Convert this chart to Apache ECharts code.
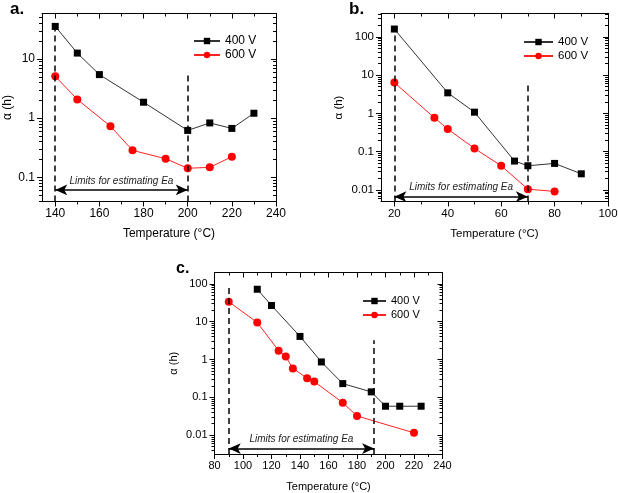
<!DOCTYPE html>
<html>
<head>
<meta charset="utf-8">
<script src="https://cdn.jsdelivr.net/npm/echarts@6/dist/echarts.min.js"></script>
<style>
  html, body { margin: 0; padding: 0; background: #fff; }
  #chart { width: 618px; height: 493px; }
</style>
</head>
<body>
<div id="chart"></div>
<script>
// panel a
const tempA400 = [140, 150, 160, 180, 200, 210, 220, 230];
const alphaA400 = [35.6, 12.6, 5.45, 1.86, 0.62, 0.83, 0.67, 1.21];
const tempA600 = [140, 150, 165, 175, 190, 200, 210, 220];
const alphaA600 = [5.1, 2.07, 0.73, 0.285, 0.206, 0.142, 0.147, 0.223];
// panel b
const tempB400 = [20, 40, 50, 65, 70, 80, 90];
const alphaB400 = [160, 3.45, 1.08, 0.057, 0.043, 0.0495, 0.0265];
const tempB600 = [20, 35, 40, 50, 60, 70, 80];
const alphaB600 = [6.4, 0.77, 0.39, 0.122, 0.043, 0.0105, 0.0092];
// panel c
const tempC400 = [110, 120, 140, 155, 170, 190, 200, 210, 225];
const alphaC400 = [72, 26.8, 4.07, 0.86, 0.23, 0.139, 0.058, 0.058, 0.058];
const tempC600 = [90, 110, 125, 130, 135, 145, 150, 170, 180, 220];
const alphaC600 = [33.5, 9.5, 1.71, 1.19, 0.58, 0.32, 0.26, 0.072, 0.032, 0.0115];

// ticks
const xTicksA = [140, 160, 180, 200, 220, 240];
const xMinorA = [150, 170, 190, 210, 230];
const xTicksB = [20, 40, 60, 80, 100];
const xMinorB = [30, 50, 70, 90];
const xTicksC = [80, 100, 120, 140, 160, 180, 200, 220, 240];
const xMinorC = [90, 110, 130, 150, 170, 190, 210, 230];
const yTicksA = [0.1, 1, 10];
const yTicksB = [0.01, 0.1, 1, 10, 100];
const yTicksC = [0.01, 0.1, 1, 10, 100];

// limits for estimating Ea: x range, dashed line tops, arrow height
const limitsA = { x: [140, 200], top: [35.6, 5.3], arrow: 0.061 };
const limitsB = { x: [20, 70], top: [160, 5.8], arrow: 0.0067 };
const limitsC = { x: [90, 192], top: [94, 3.2], arrow: 0.0044 };

const FONT = "'Liberation Sans', Arial, sans-serif";
const lg = v => Math.log10(v);

const panels = [
  { letter: 'a.', letterPos: [10, 1], fs: 12, grid: { left: 42, top: 13.5, width: 234, height: 188 },
    xMin: 134, xMax: 240, yMin: -1.41, yMax: 1.77,
    xMajor: xTicksA, xMinor: xMinorA, yMajor: yTicksA, xGap: 26, yGap: 28, xPad: 20,
    s400: [tempA400, alphaA400], s600: [tempA600, alphaA600], lim: limitsA,
    legend: { left: 193, top: 35, itemWidth: 26 } },
  { letter: 'b.', letterPos: [349, 1], fs: 11.5, grid: { left: 381, top: 13.5, width: 227, height: 188 },
    xMin: 15, xMax: 100, yMin: -2.30, yMax: 2.61,
    xMajor: xTicksB, xMinor: xMinorB, yMajor: yTicksB, xGap: 26, yGap: 36, xPad: 0,
    s400: [tempB400, alphaB400], s600: [tempB600, alphaB600], lim: limitsB,
    legend: { left: 523, top: 36, itemWidth: 29 } },
  { letter: 'c.', letterPos: [176, 261], fs: 11, grid: { left: 214.5, top: 272.5, width: 228, height: 181.5 },
    xMin: 80, xMax: 240, yMin: -2.5, yMax: 2.3,
    xMajor: xTicksC, xMinor: xMinorC, yMajor: yTicksC, xGap: 27, yGap: 35, xPad: 0,
    s400: [tempC400, alphaC400], s600: [tempC600, alphaC600], lim: limitsC,
    legend: { left: 362, top: 295, itemWidth: 23 } }
];

function minorLogTicks(lo, hi) {
  const out = [];
  for (let d = Math.floor(lo); d <= Math.ceil(hi); d++) {
    for (let k = 2; k <= 9; k++) {
      const v = lg(k) + d;
      if (v > lo && v < hi) out.push(v);
    }
  }
  return out;
}

const option = {
  animation: false,
  backgroundColor: '#fff',
  title: [], grid: [], xAxis: [], yAxis: [], legend: [], series: []
};

panels.forEach((p, g) => {
  const tickLine = { color: '#000', width: 1 };
  option.title.push({
    text: p.letter, left: p.letterPos[0], top: p.letterPos[1], padding: 0,
    textStyle: { fontSize: g === 2 ? 16 : 17, fontWeight: 'bold', color: '#000', fontFamily: FONT }
  });
  option.grid.push(Object.assign({ containLabel: false, outerBoundsMode: 'none' }, p.grid));

  const line = { show: true, onZero: false, lineStyle: { color: '#000', width: 1 } };
  const noLine = { show: false, onZero: false };
  const xb = { type: 'value', gridIndex: g, min: p.xMin, max: p.xMax, splitLine: { show: false }, axisLine: line };
  option.xAxis.push(
    Object.assign({}, xb, { position: 'bottom',
      axisTick: { customValues: p.xMajor, length: 5, lineStyle: tickLine },
      axisLabel: { customValues: p.xMajor, fontSize: p.fs, color: '#000', fontFamily: FONT, margin: 6 },
      name: 'Temperature (°C)', nameLocation: 'middle', nameGap: p.xGap,
      nameTextStyle: { fontSize: p.fs, color: '#000', fontFamily: FONT, padding: [0, 0, 0, p.xPad] } }),
    Object.assign({}, xb, { position: 'bottom', axisLine: noLine,
      axisTick: { customValues: p.xMinor, length: 3, lineStyle: tickLine }, axisLabel: { show: false } }),
    Object.assign({}, xb, { position: 'top',
      axisTick: { inside: true, customValues: p.xMajor, length: 5, lineStyle: tickLine }, axisLabel: { show: false } }),
    Object.assign({}, xb, { position: 'top', axisLine: noLine,
      axisTick: { inside: true, customValues: p.xMinor, length: 3, lineStyle: tickLine }, axisLabel: { show: false } })
  );

  const yMajor = p.yMajor.map(lg);
  const yMinor = minorLogTicks(p.yMin, p.yMax);
  const yb = { type: 'value', gridIndex: g, min: p.yMin, max: p.yMax, splitLine: { show: false }, axisLine: line };
  option.yAxis.push(
    Object.assign({}, yb, { position: 'left',
      axisTick: { customValues: yMajor, length: 5, lineStyle: tickLine },
      axisLabel: { customValues: yMajor, fontSize: p.fs, color: '#000', fontFamily: FONT, margin: 7,
        formatter: v => String(+Math.pow(10, v).toPrecision(1)) },
      name: 'α (h)', nameLocation: 'middle', nameGap: p.yGap,
      nameTextStyle: { fontSize: p.fs, color: '#000', fontFamily: FONT } }),
    Object.assign({}, yb, { position: 'left', axisLine: noLine,
      axisTick: { customValues: yMinor, length: 3, lineStyle: tickLine }, axisLabel: { show: false } }),
    Object.assign({}, yb, { position: 'right',
      axisTick: { inside: true, customValues: yMajor, length: 5, lineStyle: tickLine }, axisLabel: { show: false } }),
    Object.assign({}, yb, { position: 'right', axisLine: noLine,
      axisTick: { inside: true, customValues: yMinor, length: 3, lineStyle: tickLine }, axisLabel: { show: false } })
  );

  option.legend.push({
    orient: 'vertical', left: p.legend.left, top: p.legend.top, padding: 0,
    itemWidth: p.legend.itemWidth, itemHeight: 8, itemGap: 2,
    data: ['400 V', '600 V'],
    textStyle: { fontSize: p.fs, lineHeight: 12, color: '#000', fontFamily: FONT }
  });

  const ax = 4 * g;
  option.series.push({
    type: 'line', name: '400 V', xAxisIndex: ax, yAxisIndex: ax,
    data: p.s400[0].map((t, i) => [t, lg(p.s400[1][i])]),
    symbol: 'rect', symbolSize: 7,
    lineStyle: { color: '#333', width: 1 }, itemStyle: { color: '#000' }
  });

  const l = p.lim;
  const dashed = { color: '#000', width: 1.5, type: [6, 4] };
  option.series.push({
    type: 'line', name: '600 V', xAxisIndex: ax, yAxisIndex: ax,
    data: p.s600[0].map((t, i) => [t, lg(p.s600[1][i])]),
    symbol: 'circle', symbolSize: 8,
    lineStyle: { color: '#f22', width: 1 }, itemStyle: { color: '#f00' },
    markLine: {
      silent: true, symbol: 'none', label: { show: false },
      data: [
        [{ coord: [l.x[0], p.yMin], lineStyle: dashed }, { coord: [l.x[0], lg(l.top[0])] }],
        [{ coord: [l.x[1], p.yMin], lineStyle: dashed }, { coord: [l.x[1], lg(l.top[1])] }],
        [{ coord: [l.x[0], lg(l.arrow)], symbol: 'arrow', symbolSize: [8, 12],
           lineStyle: { color: '#000', width: 1.5, type: 'solid' },
           label: { show: true, position: 'insideMiddleTop', distance: 4, formatter: 'Limits for estimating Ea',
             fontStyle: 'italic', fontSize: 10, color: '#222', fontFamily: FONT } },
         { coord: [l.x[1], lg(l.arrow)], symbol: 'arrow', symbolSize: [8, 12] }]
      ]
    }
  });
});

const chart = echarts.init(document.getElementById('chart'), null, { renderer: 'canvas' });
chart.setOption(option);
</script>
</body>
</html>
